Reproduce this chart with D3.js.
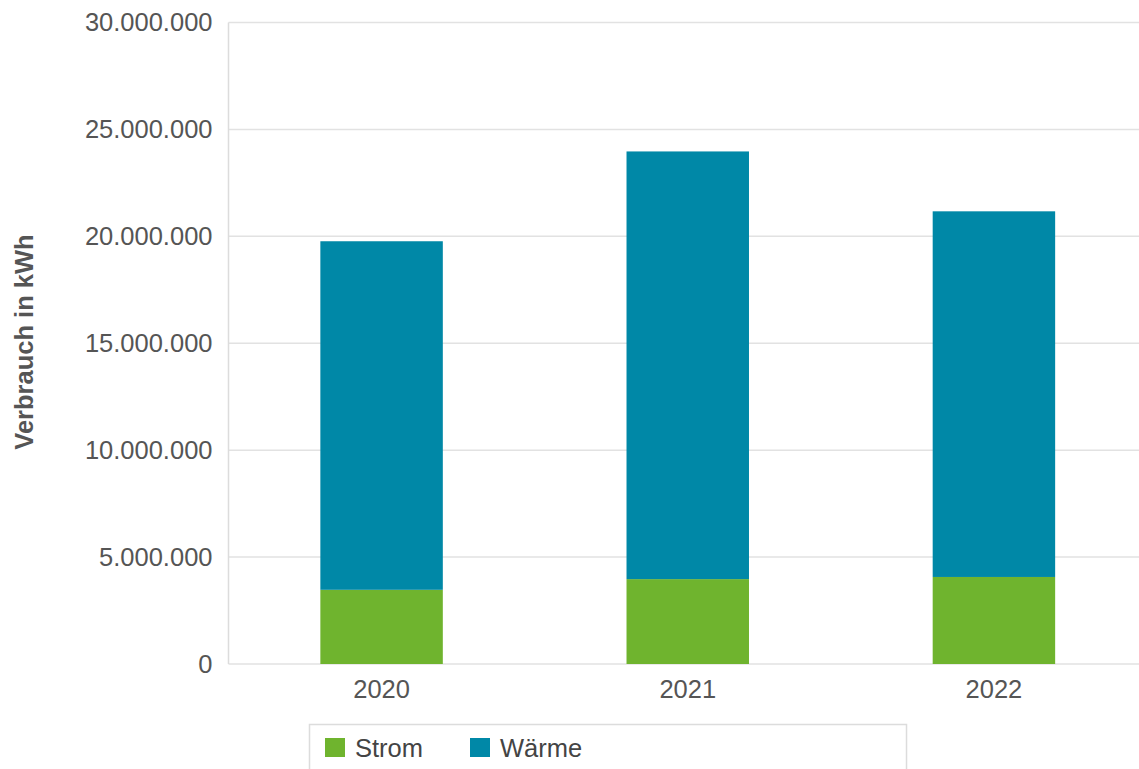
<!DOCTYPE html>
<html>
<head>
<meta charset="utf-8">
<script src="https://cdn.jsdelivr.net/npm/d3@7"></script>
<style>
  body { margin: 0; background: #fff; }
  text { font-family: "Liberation Sans", Arial, sans-serif; }
</style>
</head>
<body>
<div id="chart"></div>
<script>
// chart data
const years = ["2020", "2021", "2022"];
const strom = [3470000, 3970000, 4070000];
const waerme = [16300000, 20000000, 17100000];
const seriesNames = ["Strom", "Wärme"];
const seriesColors = ["#6fb42e", "#0088a7"];
const yTicks = [0, 5000000, 10000000, 15000000, 20000000, 25000000, 30000000];

const W = 1139, H = 769;
const margin = { top: 22.5, right: -8, bottom: 105, left: 228.5 };

const svg = d3.select("#chart").append("svg")
    .attr("width", W)
    .attr("height", H);

const de = d3.formatLocale({ decimal: ",", thousands: ".", grouping: [3], currency: ["", " €"] });
const fmt = de.format(",");

const x = d3.scaleBand()
    .domain(years)
    .range([margin.left, W - margin.right])
    .paddingInner(0.6)
    .paddingOuter(0.3);

const y = d3.scaleLinear()
    .domain([0, 30000000])
    .range([H - margin.bottom, margin.top]);

// stacked table built from the arrays
const table = years.map((yr, i) => ({ year: yr, Strom: strom[i], "Wärme": waerme[i] }));
const stack = d3.stack().keys(seriesNames)(table);

// gridlines
svg.append("g")
    .selectAll("line")
    .data(yTicks)
    .join("line")
    .attr("x1", margin.left)
    .attr("x2", W)
    .attr("y1", d => y(d))
    .attr("y2", d => y(d))
    .attr("stroke", "#e2e2e2")
    .attr("stroke-width", 1.5);

// left axis line
svg.append("line")
    .attr("x1", margin.left).attr("x2", margin.left)
    .attr("y1", y(30000000)).attr("y2", y(0))
    .attr("stroke", "#dcdcdc")
    .attr("stroke-width", 1.5);

// y axis labels
const yAxis = svg.append("g")
    .attr("transform", "translate(" + (margin.left - 16) + ",0)")
    .call(d3.axisLeft(y).tickValues(yTicks).tickFormat(fmt).tickSize(0).tickPadding(0));
yAxis.select(".domain").remove();
yAxis.selectAll("text")
    .attr("fill", "#555")
    .style("font-size", "25.5px");

// x axis labels
const xAxis = svg.append("g")
    .attr("transform", "translate(0," + y(0) + ")")
    .call(d3.axisBottom(x).tickSize(0).tickPadding(16));
xAxis.select(".domain").remove();
xAxis.selectAll("text")
    .attr("fill", "#555")
    .style("font-size", "25.5px");

// bars
svg.append("g")
    .selectAll("g")
    .data(stack)
    .join("g")
    .attr("fill", (d, i) => seriesColors[i])
    .selectAll("rect")
    .data(d => d)
    .join("rect")
    .attr("x", d => x(d.data.year))
    .attr("width", x.bandwidth())
    .attr("y", d => y(d[1]))
    .attr("height", d => y(d[0]) - y(d[1]));

// axis title
svg.append("text")
    .attr("transform", "translate(33,342) rotate(-90)")
    .attr("text-anchor", "middle")
    .attr("fill", "#555")
    .style("font-size", "25.5px")
    .style("font-weight", "bold")
    .text("Verbrauch in kWh");

// legend
const legend = svg.append("g");
legend.append("rect")
    .attr("x", 309.5).attr("y", 724.5)
    .attr("width", 597).attr("height", 60)
    .attr("fill", "#fff")
    .attr("stroke", "#dcdcdc")
    .attr("stroke-width", 1.5);

const legendX = [325, 470];
const items = legend.selectAll("g.item")
    .data(seriesNames)
    .join("g")
    .attr("class", "item")
    .attr("transform", (d, i) => "translate(" + legendX[i] + ",0)");
items.append("rect")
    .attr("y", 738)
    .attr("width", 20)
    .attr("height", 19)
    .attr("fill", (d, i) => seriesColors[i]);
items.append("text")
    .attr("x", 30)
    .attr("y", 757)
    .attr("fill", "#444")
    .style("font-size", "25.5px")
    .text(d => d);
</script>
</body>
</html>
